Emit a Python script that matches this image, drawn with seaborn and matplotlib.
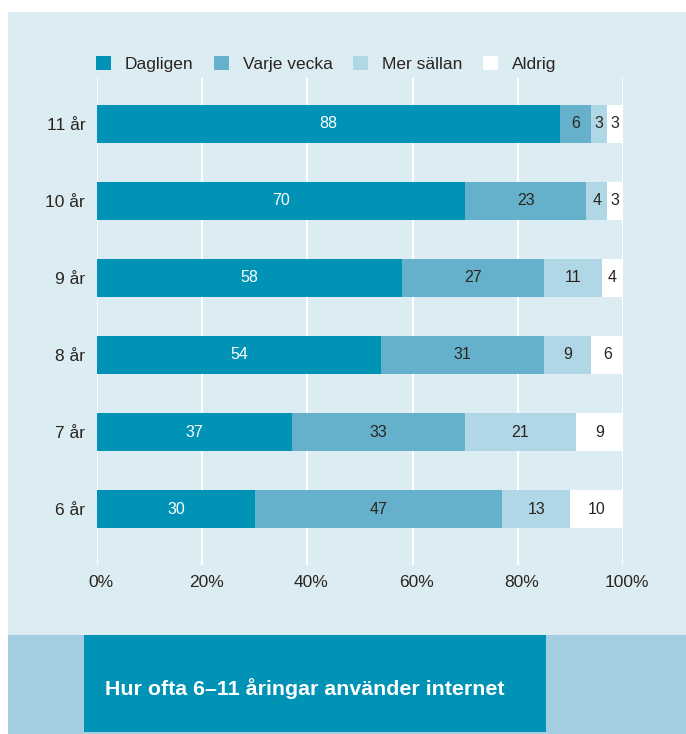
import numpy as np
import pandas as pd
import matplotlib
matplotlib.use("Agg")
import matplotlib.pyplot as plt
import matplotlib.transforms as mtransforms
from matplotlib.patches import Rectangle, Patch
import seaborn as sns

# Data (percent)
ages = ["11 år", "10 år", "9 år", "8 år", "7 år", "6 år"]
dagligen = [88, 70, 58, 54, 37, 30]
varje_vecka = [6, 23, 27, 31, 33, 47]
mer_sallan = [3, 4, 11, 9, 21, 13]
aldrig = [3, 3, 4, 6, 9, 10]
series_names = ["Dagligen", "Varje vecka", "Mer sällan", "Aldrig"]
ticks = [0, 20, 40, 60, 80, 100]
title = "Hur ofta 6–11 åringar använder internet"

colors = ["#0093b6", "#65b1cc", "#b0d7e5", "#ffffff"]
bg = "#dcecf3"
band = "#a3cde0"
dark_text = "#2b2520"

sns.set_theme(style="white")
plt.rcParams["font.family"] = ["Liberation Sans", "DejaVu Sans"]

df = pd.DataFrame({"age": ages, "Dagligen": dagligen, "Varje vecka": varje_vecka,
                   "Mer sällan": mer_sallan, "Aldrig": aldrig})
cum = df[series_names].cumsum(axis=1)

W, H = 686, 734
fig = plt.figure(figsize=(W / 100, H / 100), dpi=100)
fig.patch.set_facecolor("white")

# Background panels
fig.add_artist(Rectangle((8 / W, 99 / H), 1, 1 - 99 / H - 12 / H, transform=fig.transFigure,
                         facecolor=bg, edgecolor="none", zorder=0))
fig.add_artist(Rectangle((8 / W, 0), 1, 99 / H, transform=fig.transFigure,
                         facecolor=band, edgecolor="none", zorder=0))
fig.add_artist(Rectangle((84 / W, 2 / H), (546 - 84) / W, 97 / H, transform=fig.transFigure,
                         facecolor=colors[0], edgecolor="none", zorder=1))
fig.text(105 / W, (734 - 689) / H, title, color="white", fontsize=15.4,
         fontweight="bold", va="center", ha="left", zorder=2)

ax = fig.add_axes([97 / W, (734 - 565) / H, (623 - 97) / W, 487 / H])
ax.set_facecolor("none")

# Stacked bars: draw cumulative totals from the right-most series backwards
for i in range(len(series_names) - 1, -1, -1):
    sns.barplot(x=cum[series_names[i]], y=df["age"], orient="h", color=colors[i],
                width=0.49, saturation=1, linewidth=0, ax=ax, zorder=3)

# Segment value labels
for r in range(len(ages)):
    left = 0
    for i, name in enumerate(series_names):
        v = df[name].iloc[r]
        ax.text(left + v / 2, r, str(v), ha="center", va="center", fontsize=11.5,
                color="white" if i == 0 else dark_text, zorder=5)
        left += v

ax.set_xlim(0, 100)
ax.set_ylim(5.727, -0.597)
ax.set_xticks(ticks)
ax.set_xticklabels([f"{t}%" for t in ticks])
ax.tick_params(axis="x", length=0, labelsize=12.5, colors=dark_text, pad=7)
ax.tick_params(axis="y", length=0, labelsize=12.5, colors=dark_text, pad=8.5)
shift = mtransforms.ScaledTranslation(4 / 100, 0, fig.dpi_scale_trans)
for lab in ax.get_xticklabels():
    lab.set_transform(lab.get_transform() + shift)
ax.set_xlabel("")
ax.set_ylabel("")
for s in ax.spines.values():
    s.set_visible(False)
ax.grid(axis="x", color="white", linewidth=1.5, zorder=0)
ax.grid(axis="y", visible=False)
ax.set_axisbelow(True)

handles = [Patch(facecolor=c, edgecolor="none") for c in colors]
fig.legend(handles, series_names, loc="center left", bbox_to_anchor=(80 / W, (734 - 64) / H),
           ncol=4, frameon=False, fontsize=12.5, handlelength=0.86, handleheight=0.86,
           handletextpad=0.8, columnspacing=1.2, labelcolor=dark_text)

fig.savefig("out.png", dpi=100, facecolor=fig.get_facecolor())
